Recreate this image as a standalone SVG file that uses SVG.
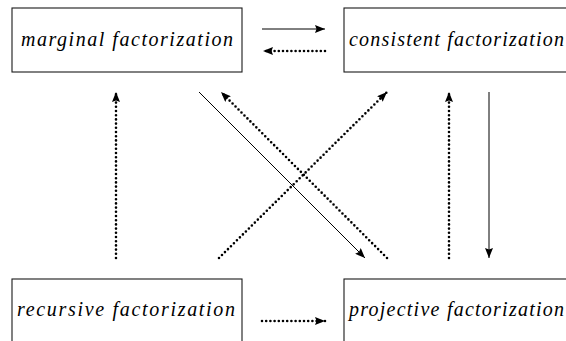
<svg xmlns="http://www.w3.org/2000/svg" width="566" height="341" viewBox="0 0 566 341">
<style>
  .box { fill: #fff; stroke: #1a1a1a; stroke-width: 1.1; }
  .lbl { font-family: "Liberation Serif", "Times New Roman", serif; font-style: italic; font-size: 20px; fill: #000; }
  .solid { stroke: #000; stroke-width: 1; fill: none; }
  .dot { stroke: #000; stroke-width: 2.6; fill: none; stroke-linecap: round; stroke-dasharray: 0 4.2; }
</style>
<defs>
  <marker id="ah" viewBox="0 0 10 8" refX="10" refY="4" markerWidth="10" markerHeight="8" markerUnits="userSpaceOnUse" orient="auto">
    <path d="M0,0 L10,4 L0,8 L1.5,4 z" fill="#000"/>
  </marker>
</defs>
<rect width="566" height="341" fill="#fff"/>
<g id="marginal">
  <rect class="box" x="12" y="8" width="230" height="64"/>
  <text class="lbl" x="21" y="46" textLength="212" lengthAdjust="spacing">marginal factorization</text>
</g>
<g id="consistent">
  <rect class="box" x="344" y="8" width="240" height="64"/>
  <text class="lbl" x="349" y="46" textLength="215" lengthAdjust="spacing">consistent factorization</text>
</g>
<g id="recursive">
  <rect class="box" x="12" y="279" width="230" height="75"/>
  <text class="lbl" x="17" y="316" textLength="218" lengthAdjust="spacing">recursive factorization</text>
</g>
<g id="projective">
  <rect class="box" x="344" y="279" width="240" height="75"/>
  <text class="lbl" x="349" y="316" textLength="215" lengthAdjust="spacing">projective factorization</text>
</g>
<g id="connectors">
  <line class="solid" x1="262" y1="29" x2="325" y2="29" marker-end="url(#ah)"/>
  <line class="dot" x1="325" y1="51" x2="263" y2="51" marker-end="url(#ah)"/>
  <line class="dot" x1="262" y1="321" x2="325" y2="321" marker-end="url(#ah)"/>
  <line class="dot" x1="116" y1="258" x2="116" y2="92" marker-end="url(#ah)"/>
  <line class="solid" x1="199" y1="92" x2="365" y2="258" marker-end="url(#ah)"/>
  <line class="dot" x1="387" y1="258" x2="221" y2="92" marker-end="url(#ah)"/>
  <line class="dot" x1="219" y1="258" x2="387" y2="92" marker-end="url(#ah)"/>
  <line class="dot" x1="449" y1="258" x2="449" y2="92" marker-end="url(#ah)"/>
  <line class="solid" x1="489" y1="92" x2="489" y2="258" marker-end="url(#ah)"/>
</g>
</svg>
